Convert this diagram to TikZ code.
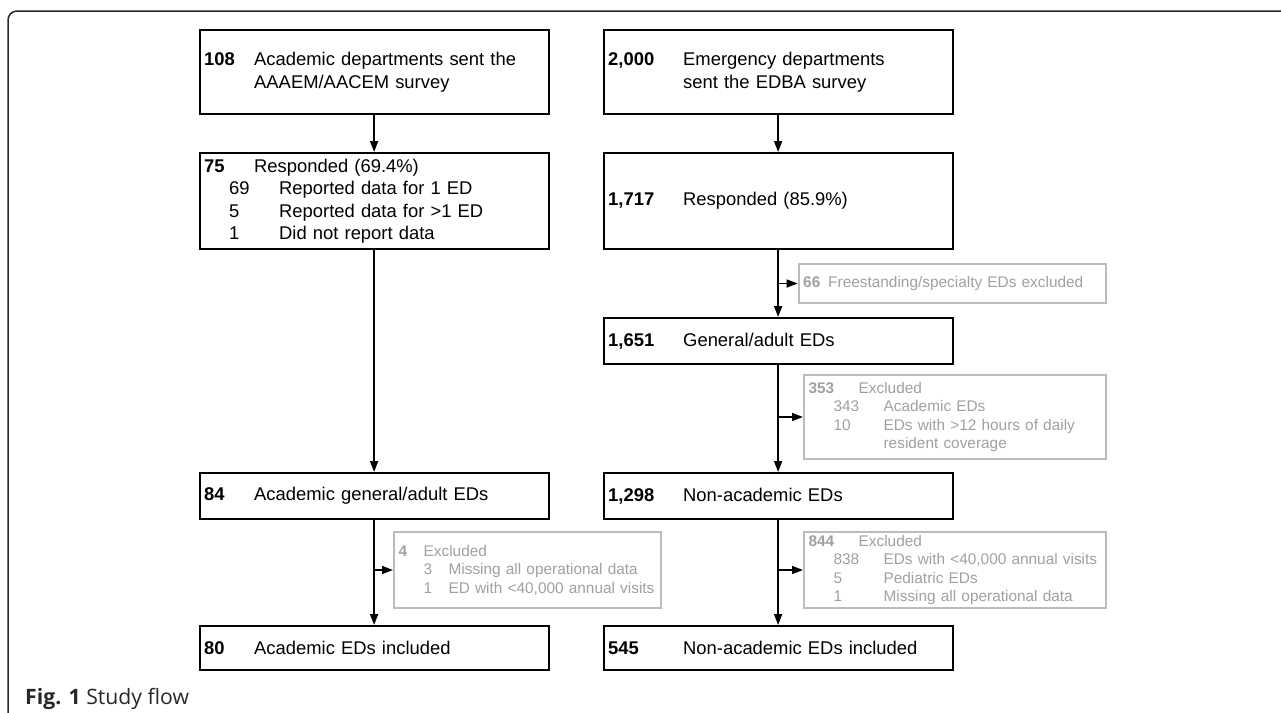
\documentclass[tikz,border=0pt]{standalone}
\usepackage{fontspec}
\setmainfont{Liberation Sans}
\newfontfamily\capfont{Open Sans}
\usetikzlibrary{arrows.meta,positioning}
\definecolor{xgray}{RGB}{160,160,160}
\definecolor{xline}{RGB}{188,188,188}
\definecolor{framegray}{RGB}{40,40,40}
% one row of a box: bold count, then its text
\newcommand{\hd}[3][50pt]{\mbox{\makebox[#1][l]{\textbf{#2}}#3}}
\newcommand{\subrow}[3][50pt]{\mbox{\hspace*{25pt}\makebox[#1][l]{#2}#3}}
\newcommand{\cont}[2]{\mbox{\hspace*{#1}#2}}

\begin{document}
\begin{tikzpicture}[x=1pt, y=-1pt,
    box/.style={draw, line width=2.2pt, rectangle, anchor=north west, inner xsep=4.6pt, inner ysep=0pt,
      align=left, minimum width=#1, text width=#1-9.2pt, font=\fontsize{18.4}{22.4}\selectfont},
    box/.default=349pt,
    xbox/.style={box=#1, draw=xline, line width=2pt, text=xgray, font=\fontsize{15.4}{18.6}\selectfont},
    arr/.style={line width=1.7pt, -{Triangle[length=11pt,width=8pt]}}]
  \useasboundingbox (0,0) rectangle (1281,712);
  \draw[framegray, line width=1.5pt, rounded corners=9pt] (8,730) -- (8,11) -- (1300,11);

  % academic column
  \node[box, minimum height=84pt] (a108) at (198.5,29) {\hd{108}{Academic departments sent the}\\\cont{50pt}{AAAEM/AACEM survey}};
  \node[box, minimum height=96pt] (a75) at (198.5,152) {\hd{75}{Responded (69.4\%)}\\\subrow{69}{Reported data for 1 ED}\\\subrow{5}{Reported data for >1 ED}\\\subrow{1}{Did not report data}};
  \node[box, minimum height=46pt] (a84) at (198.5,472) {\hd{84}{Academic general/adult EDs}};
  \node[xbox=267pt, minimum height=76pt] (x4) at (393,531) {\hd[25pt]{4}{Excluded}\\\subrow[25pt]{3}{Missing all operational data}\\\subrow[25pt]{1}{ED with <40,000 annual visits}};
  \node[box, minimum height=44pt] (a80) at (198.5,625) {\hd{80}{Academic EDs included}};

  % EDBA column
  \node[box, minimum height=84pt] (r2000) at (602.5,29) {\hd[75pt]{2,000}{Emergency departments}\\\cont{75pt}{sent the EDBA survey}};
  \node[box, minimum height=96pt] (r1717) at (602.5,152) {\hd[75pt]{1,717}{Responded (85.9\%)}};
  \node[xbox=307pt, minimum height=39pt] (x66) at (797.6,263) {\hd[25pt]{66}{Freestanding/specialty EDs excluded}};
  \node[box, minimum height=46pt] (r1651) at (602.5,317) {\hd[75pt]{1,651}{General/adult EDs}};
  \node[xbox=301.5pt, minimum height=84pt] (x353) at (803,374) {\hd{353}{Excluded}\\\subrow{343}{Academic EDs}\\\subrow{10}{EDs with >12 hours of daily}\\\cont{75pt}{resident coverage}};
  \node[box, minimum height=46pt] (r1298) at (602.5,472) {\hd[75pt]{1,298}{Non-academic EDs}};
  \node[xbox=301.5pt, minimum height=76pt] (x844) at (803,531) {\hd{844}{Excluded}\\\subrow{838}{EDs with <40,000 annual visits}\\\subrow{5}{Pediatric EDs}\\\subrow{1}{Missing all operational data}};
  \node[box, minimum height=44pt] (r545) at (602.5,625) {\hd[75pt]{545}{Non-academic EDs included}};

  \draw[arr] (a108) -- (a75);
  \draw[arr] (a75) -- (a84);
  \draw[arr] (a84) -- (a80);
  \draw[arr] (a84 |- x4) -- (x4);

  \draw[arr] (r2000) -- (r1717);
  \draw[arr] (r1717) -- (r1651);
  \draw[arr] (r1717 |- x66) -- (x66);
  \draw[arr] (r1651) -- (r1298);
  \draw[arr] (r1651 |- x353) -- (x353);
  \draw[arr] (r1298) -- (r545);
  \draw[arr] (r1298 |- x844) -- (x844);

  \node[anchor=base west, inner sep=0pt, text=framegray, font=\capfont\fontsize{21.2}{24}\selectfont] (fig) at (25,704) {\textbf{Fig. 1} Study flow};
\end{tikzpicture}
\end{document}
